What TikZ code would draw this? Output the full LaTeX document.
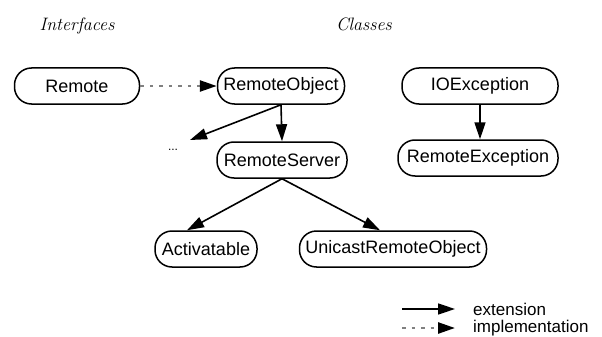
\documentclass[tikz,border=0pt]{standalone}
\usepackage{fontspec}
\setsansfont{Liberation Sans}
\usetikzlibrary{arrows.meta}

\tikzset{
  cls/.style={draw,line width=1.5pt,rounded corners=17pt,minimum height=36pt,inner sep=0pt,
    font=\sffamily\fontsize{18}{20}\selectfont},
  ext/.style={line width=1.6pt,-{Triangle[length=17pt,width=11pt]}},
  impl/.style={line width=2.5pt,gray,dash pattern=on 3.5pt off 6pt,
    -{Triangle[length=17pt,width=11pt,black]}},
  hdr/.style={font=\itshape\fontsize{18}{20}\selectfont},
  legend/.style={font=\sffamily\fontsize{17}{18}\selectfont,inner sep=2pt},
}

\begin{document}
\begin{tikzpicture}[x=1pt,y=-1pt]
\useasboundingbox (0,0) rectangle (602,337);

% column headings
\node[hdr] (ifc) at (77,26) {Interfaces};
\node[hdr] (cls) at (364,24) {Classes};

% hierarchy
\node[cls,minimum width=125pt] (remote) at (77,86) {Remote};
\node[cls,minimum width=127pt] (robject) at (281,86) {RemoteObject};
\node[cls,minimum width=156pt] (ioexc) at (480,86) {IOException};
\node[cls,minimum width=130pt] (rserver) at (282,160) {RemoteServer};
\node[cls,minimum width=160pt] (rexc) at (478,158) {RemoteException};
\node[cls,minimum width=102pt] (activ) at (206,249) {Activatable};
\node[cls,minimum width=187pt] (unicast) at (393,249) {UnicastRemoteObject};
\node[font=\sffamily\fontsize{12}{12}\selectfont,inner sep=1pt] (dots) at (173,150) {...};

\draw[impl] (remote.east) -- (robject.west);
\draw[ext] (robject.south) -- (rserver.north);
\draw[ext] (robject.south) -- ([shift={(17pt,10pt)}]dots.center);
\draw[ext] (ioexc.south) -- (ioexc.south |- rexc.north);
\draw[ext] (rserver.south) -- ([xshift=-19pt]activ.north);
\draw[ext] (rserver.south) -- ([xshift=-13pt]unicast.north);

% legend
\coordinate (lgext) at (402,309);
\coordinate (lgimp) at (402,328);
\node[legend,anchor=west] (extlbl) at (471,309) {extension};
\node[legend,anchor=west] (implbl) at (471,328) {implementation};
\draw[ext,shorten >=16pt] (lgext) -- (extlbl.west);
\draw[impl,shorten >=16pt] (lgimp) -- (implbl.west);
\end{tikzpicture}
\end{document}
